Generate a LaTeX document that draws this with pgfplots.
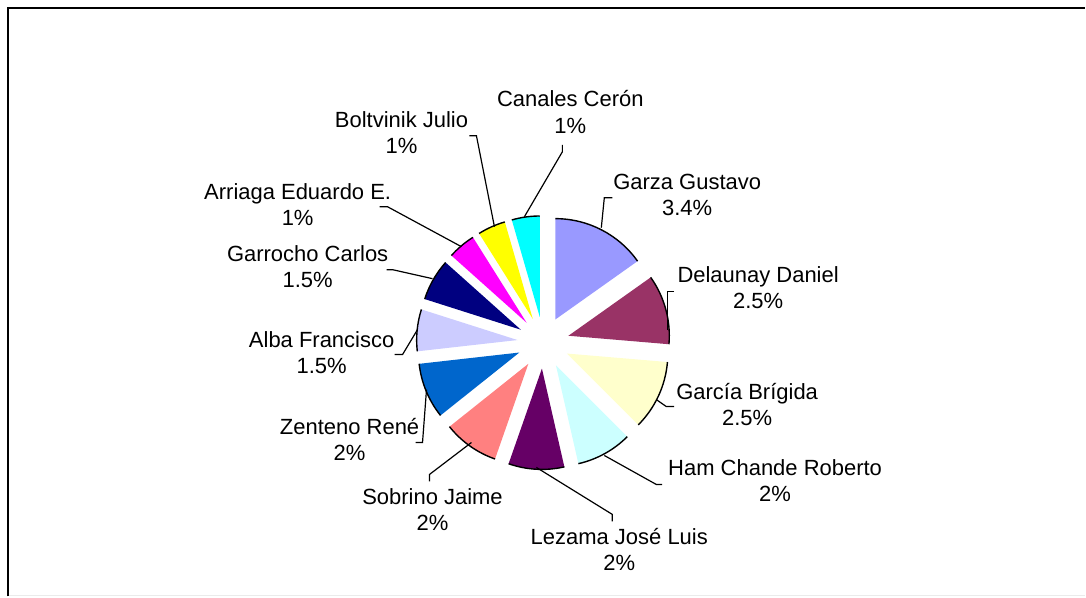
\documentclass[border=0pt]{standalone}
\usepackage{pgfplots}
\pgfplotsset{compat=1.18}
\usepackage{pgfplotstable}
\usepackage{fontspec}
\setmainfont{Liberation Sans}

\definecolor{pc0}{HTML}{9999FF}
\definecolor{pc1}{HTML}{993366}
\definecolor{pc2}{HTML}{FFFFCC}
\definecolor{pc3}{HTML}{CCFFFF}
\definecolor{pc4}{HTML}{660066}
\definecolor{pc5}{HTML}{FF8080}
\definecolor{pc6}{HTML}{0066CC}
\definecolor{pc7}{HTML}{CCCCFF}
\definecolor{pc8}{HTML}{000080}
\definecolor{pc9}{HTML}{FF00FF}
\definecolor{pc10}{HTML}{FFFF00}
\definecolor{pc11}{HTML}{00FFFF}

% share of each author (percent), clockwise from 12 o'clock
\pgfplotstableread[col sep=comma]{
idx,value
0,3.4
1,2.5
2,2.5
3,2
4,2
5,2
6,2
7,1.5
8,1.5
9,1
10,1
11,1
}\piedata

\xdef\pietotal{0}
\foreach \i in {0,...,11}{%
  \pgfplotstablegetelem{\i}{value}\of\piedata
  \pgfmathsetmacro\tmp{\pietotal+\pgfplotsretval}%
  \xdef\pietotal{\tmp}%
}
\xdef\cum{90}
\foreach \i in {0,...,11}{%
  \pgfplotstablegetelem{\i}{value}\of\piedata
  \pgfmathsetmacro\sw{\pgfplotsretval*360/\pietotal}%
  \pgfmathsetmacro\en{\cum-\sw}%
  \pgfmathsetmacro\md{\cum-\sw/2}%
  \expandafter\xdef\csname sa\i\endcsname{\cum}%
  \expandafter\xdef\csname ea\i\endcsname{\en}%
  \expandafter\xdef\csname ma\i\endcsname{\md}%
  \xdef\cum{\en}%
}

\begin{document}
\begin{tikzpicture}
\begin{axis}[width=1086pt,height=597pt,scale only axis,
  xmin=0,xmax=1086,ymin=0,ymax=597,hide axis,clip=false]
\path (axis cs:0,0) (axis cs:1086,597);
% frame
\draw[line width=2.5pt] (axis cs:8,0) -- (axis cs:8,589) -- (axis cs:1086,589);
\draw[line width=0.8pt, black!8] (axis cs:9,1) -- (axis cs:1086,1);
% wedges
\foreach \i in {0,...,11}{%
  \edef\temp{%
    \noexpand\path (axis cs:544,254) ++(\csname ma\i\endcsname:26pt) coordinate (A\i);
    \noexpand\fill[pc\i] (A\i) -- ++(\csname sa\i\endcsname:101pt)
      arc[start angle=\csname sa\i\endcsname, end angle=\csname ea\i\endcsname, radius=101pt] -- cycle;
    \noexpand\draw[line width=1.4pt] (A\i) ++(\csname sa\i\endcsname:101pt)
      arc[start angle=\csname sa\i\endcsname, end angle=\csname ea\i\endcsname, radius=101pt];
  }%
  \temp
}
% leader lines
\begin{scope}[line width=1.2pt]
\draw (axis cs:563,452) -- (axis cs:563,445) -- (axis cs:525,380);
\draw (axis cs:470,461) -- (axis cs:477,461) -- (axis cs:495,370);
\draw (axis cs:380,390) -- (axis cs:388,390) -- (axis cs:462,350);
\draw (axis cs:387,327) -- (axis cs:393,327) -- (axis cs:433,318);
\draw (axis cs:395,242) -- (axis cs:403,242) -- (axis cs:418,267);
\draw (axis cs:416,154) -- (axis cs:423,154) -- (axis cs:427,207);
\draw (axis cs:430,115) -- (axis cs:430,122) -- (axis cs:472,154);
\draw (axis cs:613,75) -- (axis cs:613,82) -- (axis cs:537,129);
\draw (axis cs:663,112) -- (axis cs:657,112) -- (axis cs:605,141);
\draw (axis cs:675,190) -- (axis cs:667,190) -- (axis cs:657,197);
\draw (axis cs:675,305) -- (axis cs:668,305) -- (axis cs:668,267);
\draw (axis cs:613,399) -- (axis cs:605,399) -- (axis cs:602,369);
\end{scope}
% labels
\begin{scope}[every node/.style={align=center,inner sep=0pt,
   font=\fontsize{22}{26.5}\selectfont}]
\node at (axis cs:571,485) {Canales Cerón\\1\%};
\node at (axis cs:402,464) {Boltvinik Julio\\1\%};
\node at (axis cs:298,392) {Arriaga Eduardo E.\\1\%};
\node at (axis cs:308,330) {Garrocho Carlos\\1.5\%};
\node at (axis cs:322,244) {Alba Francisco\\1.5\%};
\node at (axis cs:350,157) {Zenteno René\\2\%};
\node at (axis cs:433,87) {Sobrino Jaime\\2\%};
\node at (axis cs:620,47) {Lezama José Luis\\2\%};
\node at (axis cs:776,116) {Ham Chande Roberto\\2\%};
\node at (axis cs:748,192) {García Brígida\\2.5\%};
\node at (axis cs:759,309) {Delaunay Daniel\\2.5\%};
\node at (axis cs:688,402) {Garza Gustavo\\3.4\%};
\end{scope}
\end{axis}
\end{tikzpicture}
\end{document}
